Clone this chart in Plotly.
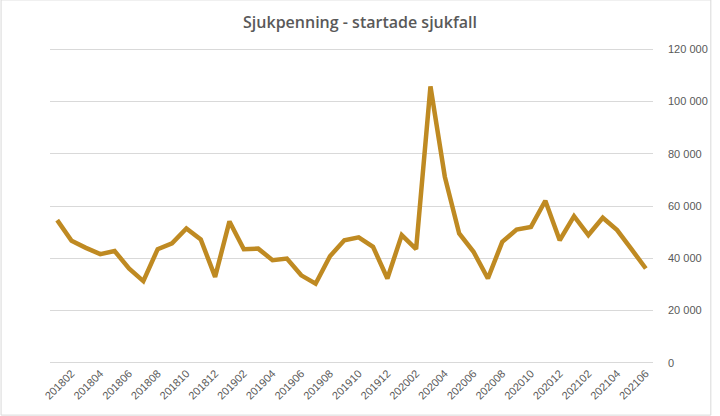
import plotly.graph_objects as go

months = [f"{y}{m:02d}" for y in (2018, 2019, 2020, 2021) for m in range(1, 13)][:42]
values = [54600, 46700, 44000, 41600, 42800, 36100, 31300, 43500, 45700, 51400,
          47200, 32900, 54100, 43500, 43700, 39300, 39900, 33500, 30300, 40800,
          46900, 48000, 44400, 32300, 48900, 43500, 105700, 71200, 49500, 42500,
          32300, 46300, 51000, 52000, 62000, 46900, 56100, 48900, 55500, 50800,
          43500, 36100]
tick_labels = months[1::2]
y_ticks = [0, 20000, 40000, 60000, 80000, 100000, 120000]
y_tick_text = ["0", "20 000", "40 000", "60 000", "80 000", "100 000", "120 000"]

fig = go.Figure()
fig.add_trace(go.Scatter(
    x=months, y=values, mode="lines",
    line=dict(color="#BF8A22", width=4.5),
    hoverinfo="skip",
))

W, H = 720, 416
pad = 400  # data units of padding so edge gridlines show
px_per_unit = 313 / 120000
L, R = 50, 60
T = 49.5 - pad * px_per_unit
B = H - 362.5 - pad * px_per_unit
pw = W - L - R
ph = H - T - B

fig.update_layout(
    width=W, height=H,
    margin=dict(l=L, r=R, t=T, b=B),
    paper_bgcolor="white", plot_bgcolor="white",
    showlegend=False,
    title=dict(text="Sjukpenning - startade sjukfall",
               x=0.5, xanchor="center", y=1 - 22 / H, yanchor="middle",
               font=dict(family="Open Sans", size=16, color="#595959", weight=600)),
    xaxis=dict(type="category", tickmode="array", tickvals=tick_labels,
               ticktext=tick_labels, tickangle=-45, showgrid=False,
               range=[-0.5, len(months) - 0.5],
               showline=False, ticks="", zeroline=False,
               tickfont=dict(family="Liberation Sans", size=11, color="#595959")),
    yaxis=dict(side="right", range=[-pad, 120000 + pad], tickmode="array",
               tickvals=y_ticks, ticktext=y_tick_text,
               showgrid=True, gridcolor="#D9D9D9", gridwidth=1,
               zeroline=False, showline=False, ticks="",
               ticklabelstandoff=14,
               tickfont=dict(family="Liberation Sans", size=11, color="#595959")),
    shapes=[dict(type="rect", xref="paper", yref="paper",
                 x0=(0.5 - L) / pw, x1=(718.5 - L) / pw,
                 y0=(H - B - 414.5) / ph, y1=(H - B - 0.5) / ph,
                 line=dict(color="#D9D9D9", width=1), fillcolor="rgba(0,0,0,0)",
                 layer="below")],
)

fig.write_html("out.html")
